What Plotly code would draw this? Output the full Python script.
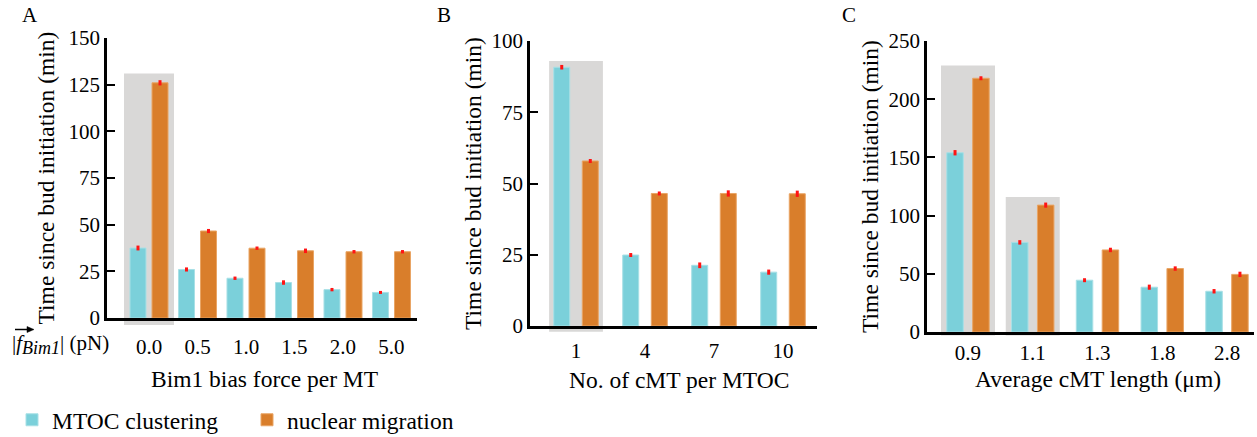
import plotly.graph_objects as go

W, H = 1257, 437

# ---------------- data ----------------
A_cats = ["0.0", "0.5", "1.0", "1.5", "2.0", "5.0"]
A_mtoc = [37.5, 26.0, 21.3, 19.0, 15.2, 13.7]
A_mtoc_err = [1.3, 1.1, 0.9, 1.2, 0.9, 0.8]
A_nuc = [126.0, 46.6, 37.4, 36.0, 35.5, 35.5]
A_nuc_err = [1.4, 1.1, 0.9, 1.2, 0.9, 0.9]

B_cats = ["1", "4", "7", "10"]
B_mtoc = [90.8, 24.9, 21.3, 18.9]
B_mtoc_err = [0.8, 0.7, 1.0, 0.9]
B_nuc = [57.9, 46.5, 46.5, 46.4]
B_nuc_err = [0.7, 0.7, 1.1, 1.1]

C_cats = ["0.9", "1.1", "1.3", "1.8", "2.8"]
C_mtoc = [154.0, 77.0, 44.5, 38.5, 35.0]
C_mtoc_err = [2.3, 1.9, 1.7, 2.2, 1.9]
C_nuc = [218.0, 109.0, 70.5, 54.5, 49.5]
C_nuc_err = [1.7, 2.2, 1.9, 1.9, 2.3]

# highlighted groups: (category index, top value of grey box)
A_highlight = [(0, 131)]
B_highlight = [(0, 93)]
C_highlight = [(0, 229), (1, 116)]

series_names = ["MTOC clustering", "nuclear migration"]
COL_MTOC = "#7bd0da"
COL_NUC = "#d97e2b"
EDGE_MTOC = "#a8e0e6"
EDGE_NUC = "#e9a565"
GREY = "#d9d8d7"
FONT = "Liberation Serif"

# ---------------- layout geometry (pixels) ----------------
def px_x(p):
    return p / W

def px_y(p):
    return 1 - p / H

panels = [
    dict(cats=A_cats, mtoc=A_mtoc, me=A_mtoc_err, nuc=A_nuc, ne=A_nuc_err,
         hl=A_highlight, ymax=150, dtick=25, xpx=(107, 417), ypx=(38, 318),
         xr=(-0.866, 5.526), half=0.227, bw=0.33, boxhalf=0.515, boxlow=-0.025,
         xtitle="Bim1 bias force per MT", xtpos=(264, 379), tstand=8, ystand=8),
    dict(cats=B_cats, mtoc=B_mtoc, me=B_mtoc_err, nuc=B_nuc, ne=B_nuc_err,
         hl=B_highlight, ymax=100, dtick=25, xpx=(530, 817), ypx=(41, 326),
         xr=(-0.667, 3.493), half=0.207, bw=0.232, boxhalf=0.39, boxlow=-0.02,
         xtitle="No. of cMT per MTOC", xtpos=(679, 380), tstand=4, ystand=4),
    dict(cats=C_cats, mtoc=C_mtoc, me=C_mtoc_err, nuc=C_nuc, ne=C_nuc_err,
         hl=C_highlight, ymax=250, dtick=50, xpx=(927, 1254), ypx=(41, 332),
         xr=(-0.633, 4.417), half=0.2, bw=0.255, boxhalf=0.417, boxlow=-0.012,
         xtitle="Average cMT length (μm)", xtpos=(1098, 379), tstand=0, ystand=4),
]

fig = go.Figure()
shapes = []
annotations = []
layout_axes = {}

for i, p in enumerate(panels):
    n = "" if i == 0 else str(i + 1)
    xa, ya = "x" + n, "y" + n
    for k, (vals, errs, col, edge) in enumerate([
        (p["mtoc"], p["me"], COL_MTOC, EDGE_MTOC),
        (p["nuc"], p["ne"], COL_NUC, EDGE_NUC),
    ]):
        center = -p["half"] if k == 0 else p["half"]
        fig.add_trace(go.Bar(
            x=p["cats"], y=vals, xaxis=xa, yaxis=ya,
            name=series_names[k], legendgroup=series_names[k],
            showlegend=(i == 0),
            width=p["bw"], offset=center - p["bw"] / 2,
            marker=dict(color=col, line=dict(color=edge, width=1)),
            error_y=dict(type="data", array=errs, color="#ff1414",
                         thickness=3, width=0, visible=True),
        ))
    for (ci, top) in p["hl"]:
        shapes.append(dict(
            type="rect", xref=xa, yref=ya + " domain", layer="below",
            x0=ci - p["boxhalf"], x1=ci + p["boxhalf"],
            y0=p["boxlow"], y1=top / p["ymax"],
            fillcolor=GREY, line=dict(width=0),
        ))
    layout_axes["xaxis" + n] = dict(
        domain=[px_x(p["xpx"][0]), px_x(p["xpx"][1])],
        anchor=ya, type="category", range=list(p["xr"]),
        showline=True, linecolor="black", linewidth=2.5,
        ticks="", showgrid=False, zeroline=False, automargin=False,
        tickfont=dict(family=FONT, size=21, color="black"),
        ticklabelstandoff=p["tstand"],
    )
    layout_axes["yaxis" + n] = dict(
        domain=[px_y(p["ypx"][1]), px_y(p["ypx"][0])],
        anchor=xa, range=[0, p["ymax"]], dtick=p["dtick"],
        showline=True, linecolor="black", linewidth=2.5,
        ticks="inside", ticklen=8, tickwidth=2, tickcolor="black",
        showgrid=False, zeroline=False, automargin=False,
        tickfont=dict(family=FONT, size=21, color="black"),
        title=dict(text="Time since bud initiation (min)",
                   font=dict(family=FONT, size=23.5, color="black"),
                   standoff=p["ystand"]),
    )
    annotations.append(dict(text=p["xtitle"], x=px_x(p["xtpos"][0]), y=px_y(p["xtpos"][1]),
                            xref="paper", yref="paper", xanchor="center", yanchor="middle",
                            showarrow=False, font=dict(family=FONT, size=23.5, color="black")))

for lbl, xp in [("A", 20), ("B", 435), ("C", 840)]:
    annotations.append(dict(text=lbl, x=px_x(xp), y=px_y(15), xref="paper", yref="paper",
                            xanchor="left", yanchor="middle", showarrow=False,
                            font=dict(family=FONT, size=21, color="black")))
# force label (vector arrow over f drawn as shapes)
annotations.append(dict(
    text="|<i>f</i><sub><span style='font-size:18px'><i>Bim1</i></span></sub>| (pN)",
    x=px_x(10), y=px_y(344), xref="paper", yref="paper",
    xanchor="left", yanchor="middle", showarrow=False,
    font=dict(family=FONT, size=21, color="black")))
shapes.append(dict(type="line", xref="paper", yref="paper",
                   x0=px_x(15), x1=px_x(29), y0=px_y(329.5), y1=px_y(329.5),
                   line=dict(color="black", width=1.5)))
shapes.append(dict(type="path", xref="paper", yref="paper",
                   path=f"M {px_x(34)},{px_y(329.5)} L {px_x(27)},{px_y(326.5)} "
                        f"L {px_x(27)},{px_y(332.5)} Z",
                   fillcolor="black", line=dict(color="black", width=0.5)))

fig.update_layout(
    width=W, height=H, autosize=False,
    margin=dict(l=0, r=0, t=0, b=0, autoexpand=False),
    paper_bgcolor="white", plot_bgcolor="white",
    barmode="overlay",
    font=dict(family=FONT, color="black"),
    shapes=shapes, annotations=annotations,
    legend=dict(orientation="h", x=px_x(12), y=px_y(442), xanchor="left", yanchor="bottom",
                font=dict(family=FONT, size=23.5, color="black"),
                entrywidth=190, entrywidthmode="pixels", bgcolor="rgba(0,0,0,0)"),
    **layout_axes,
)

fig.write_html("out.html")
